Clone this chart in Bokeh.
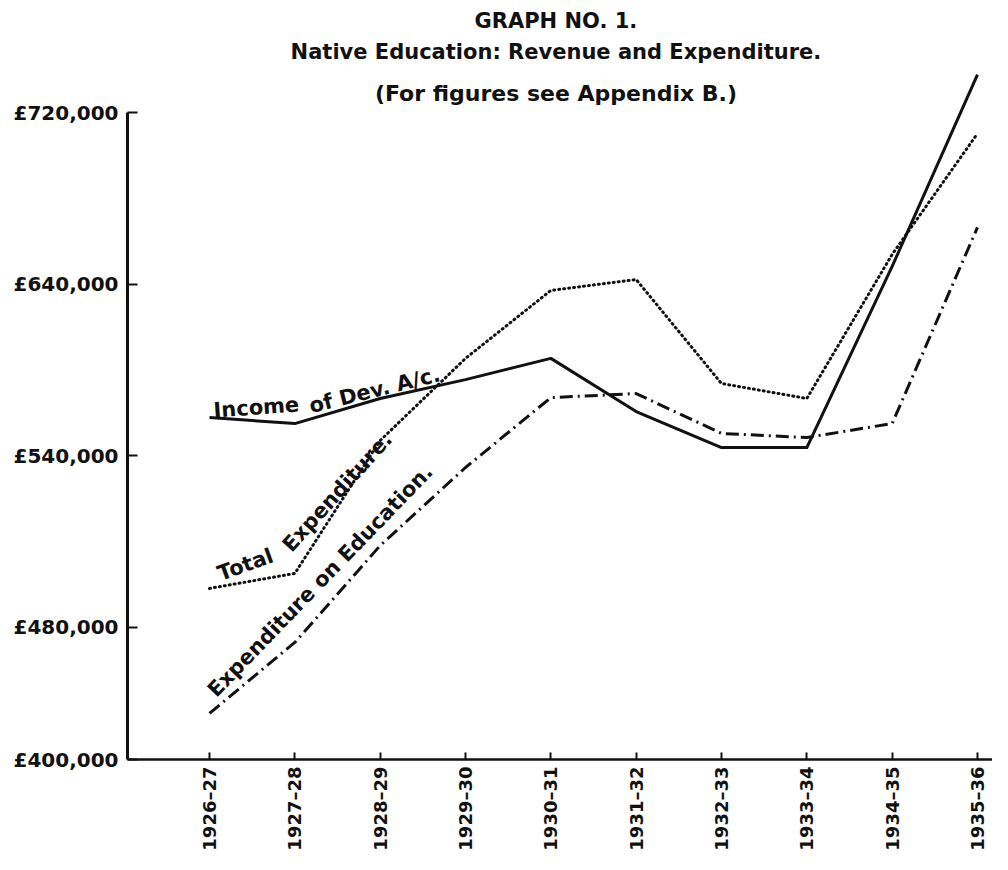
import math
from bokeh.plotting import figure
from bokeh.models import Range1d, LinearAxis, FixedTicker, Label
from bokeh.embed import file_html
from bokeh.resources import INLINE

# ---------------- data ----------------
years = ["1926–27", "1927–28", "1928–29", "1929–30", "1930–31",
         "1931–32", "1932–33", "1933–34", "1934–35", "1935–36"]
income_dev_ac = [577700, 574900, 586600, 595400, 605300,
                 580500, 563700, 563700, 648200, 737700]
total_expenditure = [498000, 505000, 567000, 605300, 637000,
                     642100, 593600, 586600, 653800, 710200]
expenditure_education = [439700, 472800, 518000, 554400, 587000,
                         588900, 570300, 568400, 574900, 666400]

y_base = 418200
y_tick_values = [y_base, 480000, 560000, 640000, 720000]
y_tick_labels = ["£400,000", "£480,000", "£540,000", "£640,000", "£720,000"]

title_lines = ["GRAPH NO. 1.",
               "Native Education: Revenue and Expenditure.",
               "(For figures see Appendix B.)"]

FONT = "DejaVu Sans"
INK = "#111111"

x = list(range(len(years)))

x_start, x_end = -0.961, 9.176
y_end = 772245

p = figure(width=992, height=854, output_backend="svg", toolbar_location=None,
           x_range=Range1d(x_start, x_end), y_range=Range1d(y_base, y_end),
           x_axis_type=None, y_axis_type=None,
           min_border_left=127, min_border_right=0, min_border_top=0,
           min_border_bottom=95)
p.outline_line_color = None
p.background_fill_color = "white"
p.border_fill_color = "white"

# --- x axis
xa = LinearAxis(ticker=FixedTicker(ticks=x),
                major_label_overrides={i: yr for i, yr in zip(x, years)},
                major_label_orientation=math.pi / 2,
                major_tick_in=7, major_tick_out=0,
                axis_line_width=2.5, axis_line_color=INK,
                major_tick_line_width=2, major_tick_line_color=INK,
                minor_tick_line_color=None, major_label_standoff=7,
                major_label_text_font=FONT, major_label_text_font_style="bold",
                major_label_text_font_size="18px", major_label_text_color=INK)
p.add_layout(xa, "below")

# --- y axis
ya = LinearAxis(ticker=FixedTicker(ticks=y_tick_values),
                bounds=(y_base, y_tick_values[-1]),
                major_label_overrides={v: t for v, t in zip(y_tick_values, y_tick_labels)},
                major_tick_in=10, major_tick_out=0,
                axis_line_width=3, axis_line_color=INK,
                major_tick_line_width=2, major_tick_line_color=INK,
                minor_tick_line_color=None, major_label_standoff=9,
                major_label_text_font=FONT, major_label_text_font_style="bold",
                major_label_text_font_size="20px", major_label_text_color=INK)
p.add_layout(ya, "left")

# ---------------- series ----------------
p.line(x, income_dev_ac, line_color=INK, line_width=3, line_join="round")
p.line(x, total_expenditure, line_color=INK, line_width=3,
       line_dash="1 4", line_cap="round", line_join="round")
p.line(x, expenditure_education, line_color=INK, line_width=3,
       line_dash="13 5 2 5", line_join="round")

# ---------------- inline series labels ----------------
def add_label(text, xv, yv, deg, size="21px"):
    p.add_layout(Label(x=xv, y=yv, text=text, angle=math.radians(deg), angle_units="rad",
                       text_font=FONT, text_font_style="bold", text_font_size=size,
                       text_color=INK, text_align="left", text_baseline="alphabetic"))

add_label("Income", 0.047, 581000, 4)
add_label("of Dev. A/c.", 1.172, 582860, 14)
add_label("Total", 0.105, 504500, 20)
add_label("Expenditure.", 0.902, 516600, 48)
add_label("Expenditure on Education.", 0.023, 449000, 46)

# ---------------- title block ----------------
title_y = [762450, 747990, 728860]
title_sizes = ["21px", "21px", "22px"]
for t, yv, sz in zip(title_lines, title_y, title_sizes):
    p.add_layout(Label(x=4.06, y=yv, text=t, text_font=FONT, text_font_style="bold",
                       text_font_size=sz, text_color=INK,
                       text_align="center", text_baseline="middle"))

open("out.html", "w").write(file_html(p, INLINE))
